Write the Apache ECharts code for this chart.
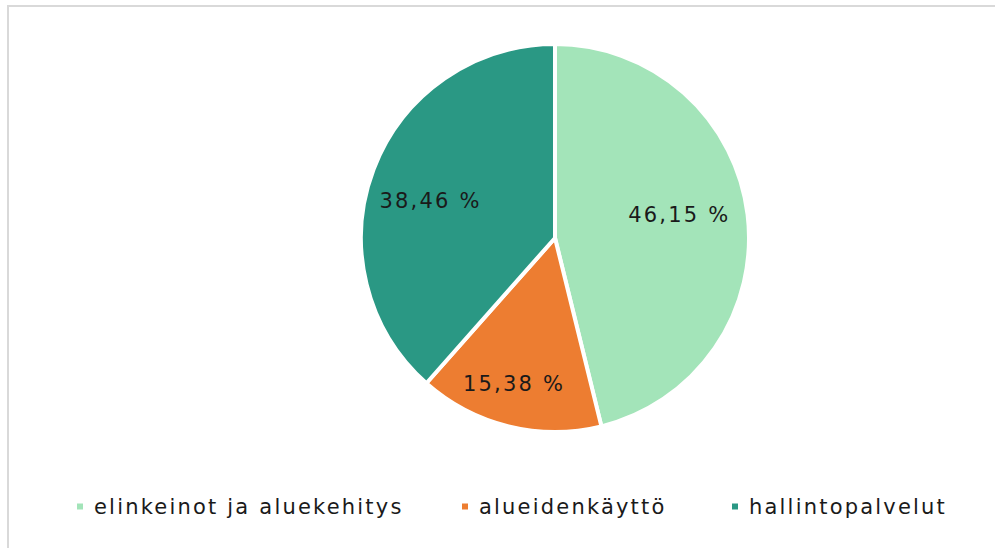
<!DOCTYPE html>
<html>
<head>
<meta charset="utf-8">
<script src="https://cdn.jsdelivr.net/npm/echarts@6/dist/echarts.min.js"></script>
<style>
  html, body { margin: 0; padding: 0; background: #fff; }
  #chart { width: 995px; height: 548px; }
  /* the original uses a wide, loosely spaced font */
  #chart text { letter-spacing: 2.2px; }
</style>
</head>
<body>
<div id="chart"></div>
<script>
const categories = ['elinkeinot ja aluekehitys', 'alueidenkäyttö', 'hallintopalvelut'];
const shares = [46.15, 15.38, 38.46];
const colors = ['#a3e4b9', '#ed7d31', '#2a9884'];

// label nudges from the default inside spot, and legend item x positions
const labelOffsets = [[25, -11], [-17, 49], [-31, -2]];
const legendLefts = [75, 460, 730];

const center = [555, 238];
const font = 'DejaVu Sans';

const chart = echarts.init(document.getElementById('chart'), null, { renderer: 'svg' });

chart.setOption({
  backgroundColor: '#fff',
  animation: false,
  graphic: [
    {
      type: 'rect',
      shape: { x: 8, y: 6, width: 1000, height: 560 },
      style: { fill: 'none', stroke: '#d9d9d9', lineWidth: 2 },
      silent: true,
    },
  ],
  legend: categories.map((name, i) => ({
    top: 496,
    left: legendLefts[i],
    padding: 0,
    icon: 'rect',
    itemWidth: 8,
    itemHeight: 8,
    textStyle: {
      fontFamily: font,
      fontSize: 21,
      color: '#1a1a1a',
      padding: [0, 0, 0, 5],
    },
    data: [name],
  })),
  series: [
    {
      type: 'pie',
      center: center,
      radius: [0, 194],
      startAngle: 90,
      clockwise: true,
      itemStyle: { borderColor: '#fff', borderWidth: 4 },
      label: {
        position: 'inside',
        fontFamily: font,
        fontSize: 21,
        color: '#1a1a1a',
        formatter: (p) => p.value.toFixed(2).replace('.', ',') + ' %',
      },
      labelLayout: (p) => ({
        dx: labelOffsets[p.dataIndex][0],
        dy: labelOffsets[p.dataIndex][1],
      }),
      emphasis: { disabled: true },
      data: categories.map((name, i) => ({
        name: name,
        value: shares[i],
        itemStyle: { color: colors[i] },
      })),
    },
  ],
});
</script>
</body>
</html>
